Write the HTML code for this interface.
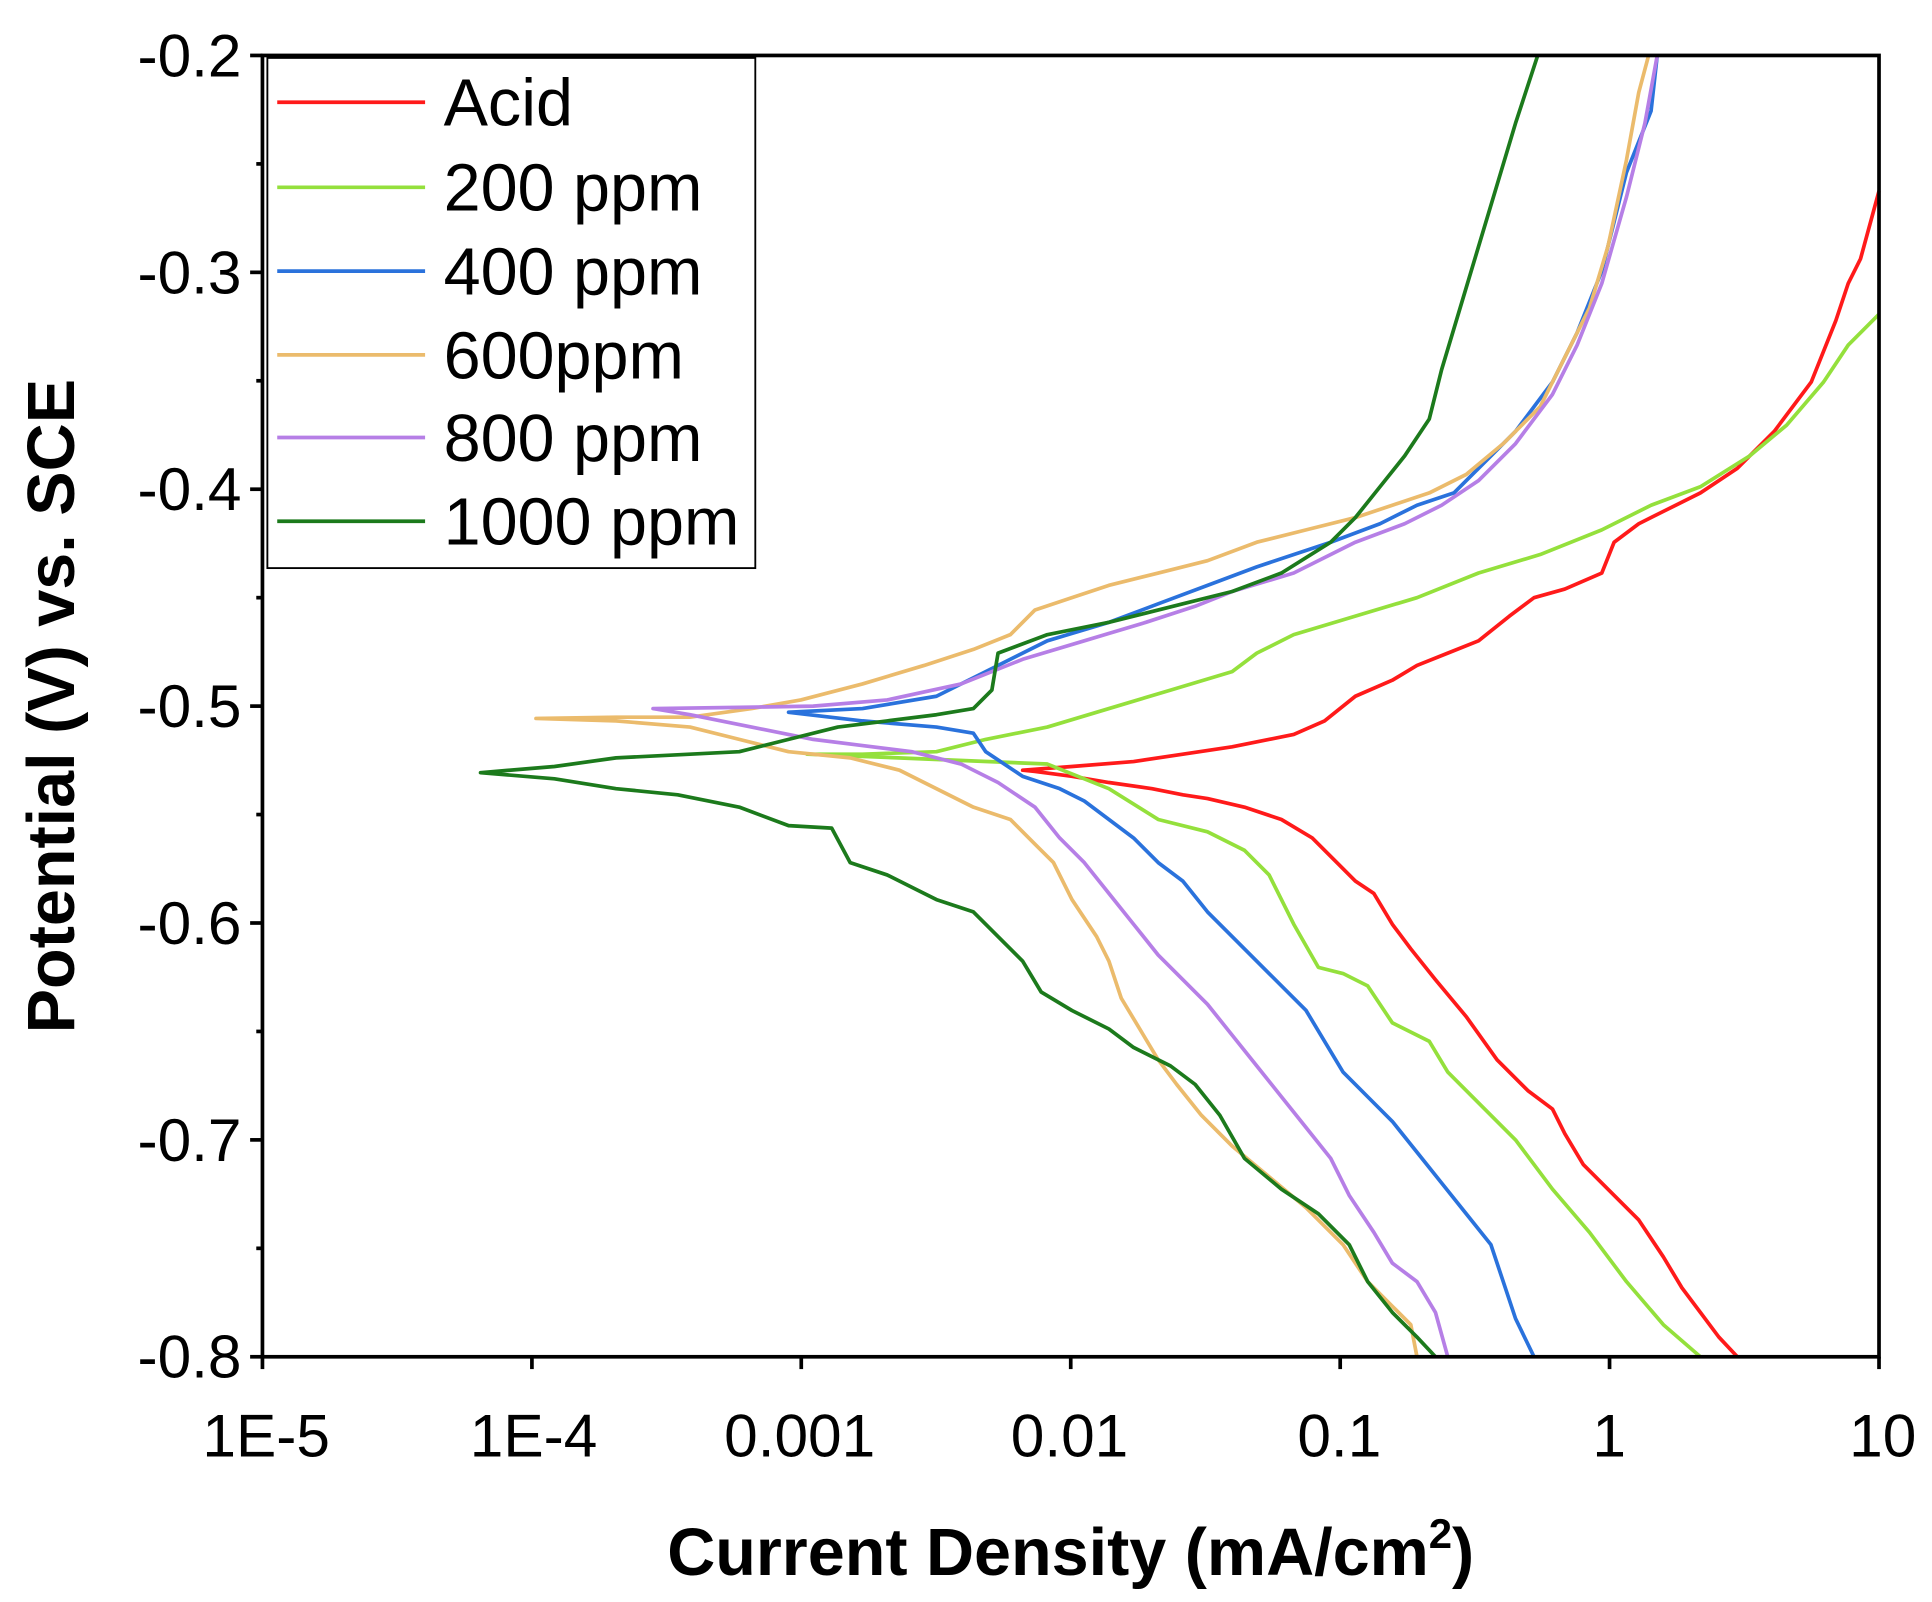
<!DOCTYPE html>
<html><head><meta charset="utf-8"><style>
html,body{margin:0;padding:0;background:#fff;}
svg{display:block;}
text{font-family:"Liberation Sans",Arial,sans-serif;fill:#000;}
</style></head><body>
<svg width="1932" height="1602" viewBox="0 0 1568 1300" preserveAspectRatio="none" xmlns="http://www.w3.org/2000/svg">
<rect width="1568" height="1300" fill="#fff"/>
<g fill="none" stroke-width="3" stroke-linejoin="round">
<polyline stroke="#ff1a1a" points="1410,1101 1395,1085 1380,1065 1365,1045 1350,1020 1330,990 1305,965 1285,945 1270,920 1260,900 1240,885 1215,860 1190,825 1165,795 1145,770 1130,750 1115,725 1100,715 1085,700 1065,680 1040,665 1010,655 980,648 960,645 935,640 900,635 870,630 840,626 830,625 870,622 920,618 960,612 1000,606 1050,596 1075,585 1100,565 1130,552 1150,540 1175,530 1200,520 1225,500 1245,485 1270,478 1300,465 1310,440 1330,425 1350,415 1380,400 1410,380 1440,350 1470,310 1490,260 1500,230 1510,210 1525,155"/>
<polyline stroke="#94e03c" points="1380,1101 1350,1075 1320,1040 1290,1000 1260,965 1230,925 1200,895 1175,870 1160,845 1130,830 1110,800 1090,790 1070,785 1050,750 1030,710 1010,690 980,675 940,665 900,640 850,620 655,612 700,612 760,610 800,600 850,590 900,575 950,560 1000,545 1020,530 1050,515 1100,500 1150,485 1200,465 1250,450 1300,430 1340,410 1380,395 1420,370 1450,345 1480,310 1500,280 1525,255"/>
<polyline stroke="#2a72dc" points="1245,1101 1230,1070 1220,1040 1210,1010 1190,985 1170,960 1150,935 1130,910 1110,890 1090,870 1075,845 1060,820 1030,790 1000,760 980,740 960,715 940,700 920,680 900,665 880,650 860,640 830,630 800,610 790,595 760,590 700,585 640,578 700,575 760,565 800,545 850,520 900,505 940,490 980,475 1020,460 1080,440 1120,425 1150,410 1180,400 1200,380 1230,350 1260,310 1280,270 1300,220 1320,140 1340,90 1345,45"/>
<polyline stroke="#ebbb6c" points="1150,1101 1145,1075 1130,1060 1110,1040 1090,1010 1060,980 1030,955 1000,930 975,905 955,880 940,860 925,835 910,810 900,780 890,760 870,730 855,700 840,685 820,665 790,655 760,640 730,625 690,615 640,610 600,600 560,590 500,585 435,583 500,582 560,582 610,575 650,568 700,555 750,540 790,527 820,515 840,495 870,485 900,475 940,465 980,455 1020,440 1060,430 1100,420 1130,410 1160,400 1190,385 1220,360 1250,330 1270,290 1290,250 1305,200 1320,130 1330,75 1338,45"/>
<polyline stroke="#b67fe6" points="1175,1101 1165,1065 1150,1040 1130,1025 1115,1000 1095,970 1080,940 1060,915 1040,890 1020,865 1000,840 980,815 960,795 940,775 920,750 900,725 880,700 860,680 840,655 810,635 780,620 740,610 700,605 660,600 610,590 560,580 530,575 600,574 660,573 720,568 780,555 830,535 880,520 930,505 970,492 1000,480 1050,465 1100,440 1140,425 1170,410 1200,390 1230,360 1260,320 1280,280 1300,230 1320,160 1335,100 1345,45"/>
<polyline stroke="#1c7a1c" points="1165,1101 1150,1085 1130,1065 1110,1040 1095,1010 1070,985 1040,965 1010,940 990,905 970,880 950,865 920,850 900,835 870,820 845,805 830,780 810,760 790,740 760,730 720,710 690,700 675,672 640,670 600,655 550,645 500,640 450,632 390,627 450,622 500,615 560,612 600,610 640,600 680,590 720,585 760,580 790,575 805,560 810,530 850,515 900,505 960,490 1000,480 1040,465 1080,440 1100,420 1120,395 1140,370 1160,340 1170,300 1185,250 1200,200 1215,150 1230,100 1248,45"/>
</g>
<rect x="213" y="45" width="1312" height="1056" fill="none" stroke="#000" stroke-width="3"/>
<g stroke="#000" stroke-width="3">
<line x1="213" y1="1101" x2="213" y2="1111"/><line x1="431.7" y1="1101" x2="431.7" y2="1111"/><line x1="650.3" y1="1101" x2="650.3" y2="1111"/><line x1="869" y1="1101" x2="869" y2="1111"/><line x1="1087.7" y1="1101" x2="1087.7" y2="1111"/><line x1="1306.3" y1="1101" x2="1306.3" y2="1111"/><line x1="1525" y1="1101" x2="1525" y2="1111"/>
<line x1="203" y1="45" x2="213" y2="45"/><line x1="203" y1="221" x2="213" y2="221"/><line x1="203" y1="397" x2="213" y2="397"/><line x1="203" y1="573" x2="213" y2="573"/><line x1="203" y1="749" x2="213" y2="749"/><line x1="203" y1="925" x2="213" y2="925"/><line x1="203" y1="1101" x2="213" y2="1101"/>
<line x1="208" y1="133" x2="213" y2="133"/><line x1="208" y1="309" x2="213" y2="309"/><line x1="208" y1="485" x2="213" y2="485"/><line x1="208" y1="661" x2="213" y2="661"/><line x1="208" y1="837" x2="213" y2="837"/><line x1="208" y1="1013" x2="213" y2="1013"/>
</g>
<g font-size="49" text-anchor="end">
<text x="196" y="62">-0.2</text><text x="196" y="238">-0.3</text><text x="196" y="414">-0.4</text><text x="196" y="590">-0.5</text><text x="196" y="766">-0.6</text><text x="196" y="942">-0.7</text><text x="196" y="1118">-0.8</text>
</g>
<g font-size="49" text-anchor="middle">
<text x="216" y="1182">1E-5</text><text x="433" y="1182">1E-4</text><text x="649" y="1182">0.001</text><text x="868" y="1182">0.01</text><text x="1087" y="1182">0.1</text><text x="1306" y="1182">1</text><text x="1528" y="1182">10</text>
</g>
<text x="869" y="1278" font-size="54" font-weight="bold" text-anchor="middle">Current Density (mA/cm<tspan font-size="34" dy="-22">2</tspan><tspan dy="22">)</tspan></text>
<text transform="translate(60,573) rotate(-90)" font-size="54" font-weight="bold" text-anchor="middle">Potential (V) vs. SCE</text>
<rect x="217" y="47" width="396" height="414" fill="#fff" stroke="#000" stroke-width="1.5"/>
<g stroke-width="3">
<line x1="225" y1="83" x2="345" y2="83" stroke="#ff1a1a"/>
<line x1="225" y1="152" x2="345" y2="152" stroke="#94e03c"/>
<line x1="225" y1="220" x2="345" y2="220" stroke="#2a72dc"/>
<line x1="225" y1="288" x2="345" y2="288" stroke="#ebbb6c"/>
<line x1="225" y1="355" x2="345" y2="355" stroke="#b67fe6"/>
<line x1="225" y1="423" x2="345" y2="423" stroke="#1c7a1c"/>
</g>
<g font-size="54">
<text x="360" y="102">Acid</text><text x="360" y="171">200 ppm</text><text x="360" y="239">400 ppm</text><text x="360" y="307">600ppm</text><text x="360" y="374">800 ppm</text><text x="360" y="442">1000 ppm</text>
</g>
</svg>
</body></html>
